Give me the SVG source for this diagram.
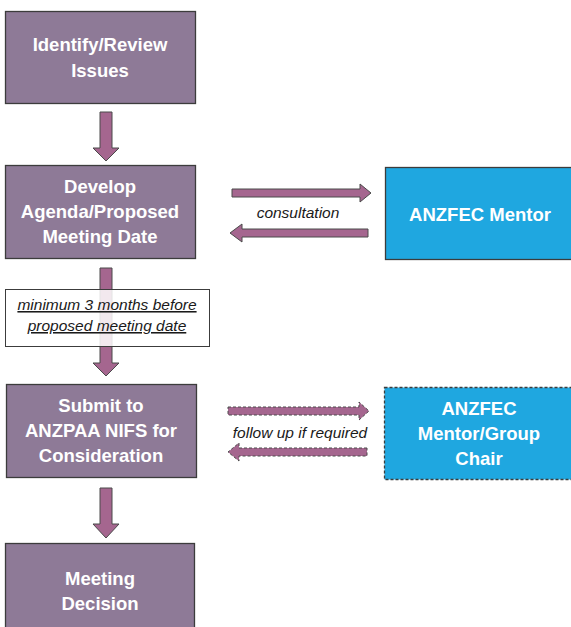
<svg xmlns="http://www.w3.org/2000/svg" width="571" height="627" viewBox="0 0 571 627">
<style>
.box{fill:#8e7a97;stroke:#3c3c3c;stroke-width:1.3}
.blue{fill:#1fa7e0;stroke:#3c3c3c;stroke-width:1.3}
.dash{stroke-dasharray:3 2}
.arr{fill:#a5668f;stroke:#4a4a4a;stroke-width:1}
.t{font-family:"Liberation Sans",Arial,sans-serif;font-weight:bold;font-size:18.5px;fill:#ffffff;text-anchor:middle}
.i{font-family:"Liberation Sans",Arial,sans-serif;font-style:italic;font-size:15.5px;fill:#1a1a1a;text-anchor:middle}
</style>
<rect width="571" height="627" fill="#ffffff"/>
<g id="connectors">
<path class="arr" d="M100,112 H112 V148 H119 L106,161 L93,148 H100 Z"/>
<path class="arr" d="M100,268 H112 V363 H119 L106,376 L93,363 H100 Z"/>
<path class="arr" d="M100,488 H112 V524 H119 L106,538 L93,524 H100 Z"/>
<path class="arr" d="M232,189 H360 V184 L371,193 L360,202 V197 H232 Z"/>
<path class="arr" d="M368,229 H242 V224 L230,233 L242,242 V237 H368 Z"/>
<path class="arr dash" d="M228,407 H359 V402 L369,411 L359,420 V415 H228 Z"/>
<path class="arr dash" d="M367,448 H239 V443 L228,452 L239,461 V456 H367 Z"/>
<text class="i" x="298" y="218">consultation</text>
<text class="i" x="300" y="438">follow up if required</text>
</g>
<g id="n1">
<rect class="box" x="5.5" y="11.5" width="190" height="92"/>
<text class="t" x="100" y="51">Identify/Review</text>
<text class="t" x="100" y="77">Issues</text>
</g>
<g id="n2">
<rect class="box" x="5.5" y="165.5" width="190" height="93"/>
<text class="t" x="100" y="193">Develop</text>
<text class="t" x="100" y="218">Agenda/Proposed</text>
<text class="t" x="100" y="243">Meeting Date</text>
</g>
<g id="note">
<rect x="5.5" y="289.5" width="204" height="57" fill="#ffffff" fill-opacity="0.85" stroke="#3c3c3c" stroke-width="1"/>
<text class="i" x="107" y="310" text-decoration="underline">minimum 3 months before</text>
<text class="i" x="107" y="331" text-decoration="underline">proposed meeting date</text>
</g>
<g id="n3">
<rect class="box" x="6.5" y="384.5" width="190" height="93"/>
<text class="t" x="101" y="412">Submit to</text>
<text class="t" x="101" y="437">ANZPAA NIFS for</text>
<text class="t" x="101" y="462">Consideration</text>
</g>
<g id="n4">
<rect class="box" x="5.5" y="543.5" width="189" height="95"/>
<text class="t" x="100" y="585">Meeting</text>
<text class="t" x="100" y="610">Decision</text>
</g>
<g id="m1">
<rect class="blue" x="385.5" y="167.5" width="190" height="92"/>
<text class="t" x="480" y="221">ANZFEC Mentor</text>
</g>
<g id="m2">
<rect class="blue dash" x="384.5" y="387.5" width="191" height="92"/>
<text class="t" x="479" y="415">ANZFEC</text>
<text class="t" x="479" y="440">Mentor/Group</text>
<text class="t" x="479" y="465">Chair</text>
</g>
</svg>
